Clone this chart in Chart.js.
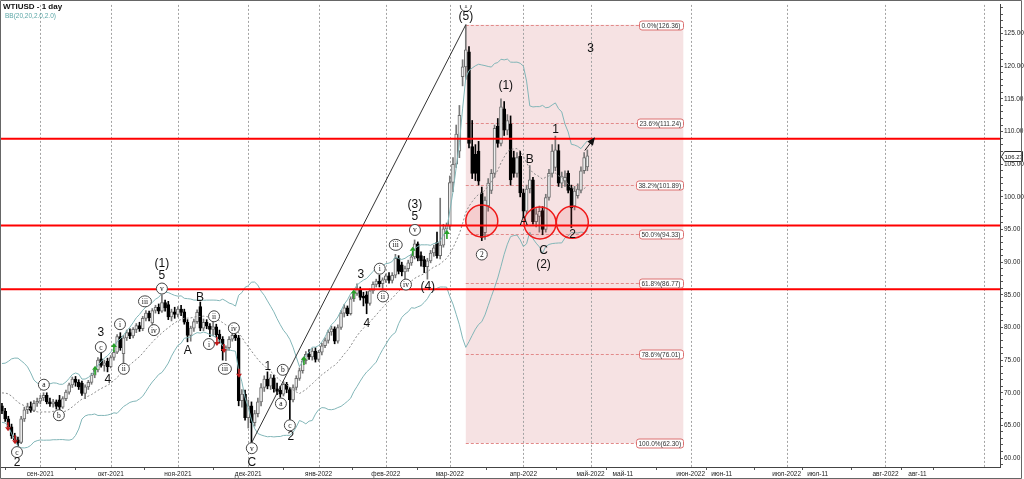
<!DOCTYPE html>
<html>
<head>
<meta charset="utf-8">
<title>WTIUSD - 1 day</title>
<script src="https://cdn.jsdelivr.net/npm/chart.js@4.4.1/dist/chart.umd.min.js"></script>
<style>
  html, body { margin: 0; padding: 0; background: #fff; overflow: hidden; }
  canvas { display: block; }
</style>
</head>
<body>
<canvas id="wtiChart" width="1024" height="479"></canvas>
<script>
// Daily WTIUSD candles, one per trading day (index 0 = mid Aug 2021, last = end Apr 2022)
const opens = [
  68.0, 67.2, 66.0, 64.8, 63.4, 62.8, 62.4, 66.0, 67.4, 67.9, 67.3, 68.4,
  68.7, 69.2, 69.6, 68.6, 68.3, 68.6, 68.9, 67.8, 69.1, 70.1, 71.2, 72.1, 71.6, 71.5, 69.9, 70.9, 71.6, 72.7, 73.5, 75.2, 74.2, 74.8,
  74.0, 75.4, 76.2, 78.6, 76.0, 78.4, 79.2, 78.7, 79.7, 80.3, 79.8, 81.4, 82.2, 80.7, 82.6, 83.1, 82.5, 83.8, 83.5, 81.6, 82.4,
  82.0, 82.8, 82.4, 80.8, 78.8, 79.9, 80.9, 83.2, 79.9, 80.8, 80.2, 79.7, 80.1, 79.0, 78.2, 76.4, 76.9, 78.2, 78.8, 78.4, 68.8, 69.8,
  66.2, 68.0, 65.4, 66.8, 68.6, 70.8, 72.1, 71.0, 72.3, 70.6, 70.4, 69.8, 71.3, 70.5, 68.9, 70.8, 72.2, 73.4, 74.9, 75.9, 75.5, 76.4,
  75.1, 76.2, 77.2, 78.0, 79.3, 79.8, 77.9, 80.0, 82.2, 83.0, 82.1, 84.4, 85.2, 85.8, 84.8, 85.0, 83.7, 85.6, 86.6, 87.1, 86.7,
  87.3, 87.9, 87.2, 88.0, 90.6, 89.6, 88.5, 89.0, 89.9, 90.8, 92.8, 91.0, 90.4, 89.3, 90.2, 91.4, 93.0, 91.0, 92.6, 95.1,
  95.5, 102.2, 105.0, 107.0, 118.4, 119.9, 122.2, 107.7, 106.5, 107.0, 100.6, 94.5, 98.6, 101.0, 103.6, 110.8, 108.2, 113.5, 110.2, 111.2, 106.0, 103.6, 106.2,
  100.6, 97.8, 101.2, 102.6, 96.2, 97.0, 97.9, 95.0, 99.9, 103.6, 104.5, 107.1, 102.1, 102.4, 103.6, 101.4, 98.6, 100.2, 101.0, 104.0, 104.6
];
const highs = [
  68.4, 67.6, 66.4, 65.2, 63.8, 63.2, 66.4, 67.8, 68.4, 68.6, 68.8, 69.2,
  69.6, 70.0, 70.0, 69.2, 69.0, 68.9, 69.6, 69.4, 70.4, 71.5, 72.4, 72.5, 72.0, 71.8, 71.2, 71.9, 73.0, 73.8, 75.4, 76.3, 75.0, 75.3,
  75.7, 76.5, 78.9, 79.2, 78.8, 79.6, 79.8, 80.0, 80.6, 80.8, 81.7, 82.6, 82.5, 82.9, 83.4, 83.6, 85.0, 84.2, 84.0, 82.8, 83.1,
  83.2, 83.4, 82.8, 81.2, 80.2, 81.3, 82.7, 83.9, 81.3, 81.2, 80.6, 81.0, 80.5, 79.6, 78.6, 77.2, 78.6, 79.2, 79.0, 78.8, 70.5, 70.4,
  68.9, 68.6, 67.3, 69.2, 71.4, 72.6, 73.2, 72.8, 72.7, 71.5, 71.0, 71.7, 71.6, 70.8, 71.2, 72.6, 73.8, 75.3, 76.3, 76.6, 76.8, 76.9,
  76.5, 77.6, 78.4, 79.6, 80.2, 80.1, 80.4, 82.6, 83.5, 83.3, 84.7, 85.6, 86.7, 86.2, 85.4, 85.5, 85.9, 87.0, 87.4, 88.0, 87.6,
  88.2, 88.4, 88.4, 91.2, 91.0, 90.0, 89.4, 90.3, 91.2, 93.4, 93.1, 91.6, 90.9, 90.6, 91.8, 92.6, 94.6, 99.8, 95.8, 96.0,
  103.2, 106.0, 111.0, 114.0, 121.0, 126.36, 123.0, 111.7, 108.0, 108.5, 101.5, 100.0, 102.8, 104.2, 111.0, 112.0, 115.0, 114.6, 112.6, 112.4, 107.0, 106.8, 107.0,
  101.2, 101.8, 104.8, 103.0, 98.2, 98.6, 98.5, 100.4, 104.2, 108.0, 109.3, 108.0, 103.8, 104.0, 104.0, 101.8, 101.6, 102.0, 104.6, 106.8, 107.2
];
const lows = [
  66.8, 65.6, 64.4, 63.0, 62.4, 61.9, 62.2, 65.6, 66.8, 67.0, 67.1, 67.9,
  68.3, 68.8, 68.3, 67.9, 67.8, 67.5, 67.2, 67.6, 68.8, 69.8, 70.8, 71.0, 70.5, 69.6, 69.1, 70.5, 71.3, 72.3, 73.2, 73.9, 73.3, 73.2,
  73.8, 75.0, 76.0, 76.5, 74.0, 78.0, 78.3, 78.4, 79.2, 79.4, 79.5, 81.0, 81.0, 80.2, 82.2, 82.1, 82.3, 82.5, 81.2, 81.0, 81.4,
  81.6, 81.8, 80.5, 77.8, 77.9, 79.4, 80.6, 79.5, 79.5, 79.8, 78.6, 78.7, 78.5, 77.6, 75.0, 74.9, 76.5, 77.9, 78.0, 68.0, 67.8, 65.8,
  64.6, 62.30, 64.9, 66.3, 68.0, 70.2, 70.6, 70.5, 70.1, 69.7, 69.3, 69.5, 70.0, 65.8, 68.6, 70.4, 71.9, 73.0, 74.4, 75.1, 75.0, 74.7,
  74.8, 75.8, 76.9, 77.6, 78.8, 77.5, 77.6, 79.7, 81.6, 81.8, 81.9, 84.0, 84.9, 84.2, 83.3, 82.1, 83.4, 85.2, 86.2, 86.2, 85.8,
  86.9, 86.8, 86.8, 87.6, 88.2, 87.9, 87.3, 88.6, 89.5, 90.5, 90.2, 89.4, 88.4, 87.4, 89.9, 90.9, 90.6, 90.5, 92.3, 94.6,
  95.0, 100.8, 104.5, 106.0, 117.0, 118.0, 107.5, 102.8, 102.5, 101.8, 93.3, 93.5, 97.8, 100.5, 103.0, 107.6, 107.8, 109.4, 109.5, 101.8, 103.0, 103.0, 100.0,
  96.8, 97.4, 100.6, 95.8, 95.4, 94.6, 94.2, 94.6, 99.5, 103.0, 104.0, 101.6, 101.4, 101.6, 100.6, 95.3, 98.0, 99.8, 100.6, 103.6, 104.0
];
const closes = [
  67.2, 66.0, 64.8, 63.4, 62.8, 62.3, 66.0, 67.4, 67.9, 67.3, 68.4, 68.7,
  69.2, 69.6, 68.6, 68.3, 68.6, 67.9, 67.8, 69.1, 70.1, 71.2, 72.1, 71.6, 70.9, 69.9, 70.9, 71.6, 72.7, 73.5, 75.0, 74.2, 74.6, 74.0,
  75.4, 76.2, 78.6, 76.9, 78.4, 79.2, 78.7, 79.7, 80.3, 79.8, 81.4, 82.2, 81.5, 82.6, 83.1, 82.5, 83.8, 83.0, 81.6, 82.4, 82.0,
  82.8, 82.3, 80.8, 78.8, 79.9, 80.9, 82.3, 79.9, 80.8, 80.2, 79.7, 80.1, 78.9, 78.2, 76.4, 76.9, 78.2, 78.8, 78.4, 68.8, 69.8, 66.2,
  68.0, 65.4, 66.8, 68.6, 70.8, 72.1, 71.0, 72.3, 70.6, 70.2, 69.8, 71.3, 70.5, 68.9, 70.8, 72.2, 73.4, 74.9, 75.9, 75.5, 76.4, 75.1,
  76.2, 77.2, 78.0, 79.3, 79.8, 77.9, 80.0, 82.2, 83.0, 82.1, 84.4, 85.2, 85.8, 84.6, 84.5, 83.7, 85.6, 86.6, 87.1, 86.7, 87.3,
  87.9, 87.2, 88.0, 90.6, 88.6, 88.5, 89.0, 89.9, 90.8, 92.8, 90.6, 90.2, 89.3, 90.2, 91.4, 92.2, 91.0, 92.6, 95.1, 95.6,
  102.2, 105.0, 109.6, 112.5, 119.9, 122.5, 108.2, 103.6, 103.6, 102.4, 93.8, 99.5, 102.1, 103.6, 110.5, 108.2, 113.8, 110.2, 111.7, 102.6, 103.6, 106.0, 100.6,
  97.8, 101.2, 102.6, 96.2, 97.4, 97.8, 95.0, 99.9, 103.6, 107.0, 107.2, 102.1, 103.2, 103.0, 101.0, 98.3, 100.9, 101.2, 104.0, 106.0, 106.27
];
// closes before the first visible bar, needed only to start the BB(20) window
const bbWarmupCloses = [66.4, 67.4, 70.3, 71.9, 72.1, 71.9, 71.7, 72.4, 73.6, 73.9, 71.3, 70.6, 68.2, 69.1, 68.3, 66.5, 68.3, 69.3, 69.1];

// x axis (bar index; future part runs on calendar days)
const xTickIdx = [12, 34, 55, 77, 99, 120, 140, 163, 184, 194.1, 215.3, 225, 245.3, 255, 276.2, 286.2];
const xTickLabels = ['сен-2021', 'окт-2021', 'ноя-2021', 'дек-2021', 'янв-2022', 'фев-2022', 'мар-2022', 'апр-2022',
  'май-2022', 'май-11', 'июн-2022', 'июн-11', 'июл-2022', 'июл-11', 'авг-2022', 'авг-11'];
const monthGridIdx = [12, 34, 55, 77, 99, 120, 140, 163, 184, 215.3, 245.3, 276.2, 306.9];

// analysis objects
const supportLevels = [108.9, 95.6, 85.85];
const swingLowIdx = 78, swingHighIdx = 145, fibEndIdx = 213;
const fibRatios = [0, 0.236, 0.382, 0.5, 0.618, 0.786, 1];
const zoneCircles = [[150, 96.3], [168.2, 96.0], [178.3, 96.1]];
const projection = [[182.2, 107.1], [185, 108.9]];
const waveLabels = [
  ['2', 4.7, 59.24], ['3', 30.9, 79.13], ['4', 33.1, 72.0], ['5', 50, 87.94], ['(1)', 50, 89.76],
  ['A', 58.1, 76.4], ['B', 61.9, 84.6], ['C', 78.1, 59.24], ['1', 83.1, 73.97], ['2', 90.3, 63.34],
  ['3', 112.2, 88.09], ['4', 114.1, 80.65], ['5', 129.1, 96.9], ['(3)', 129.1, 98.87], ['(4)', 133.1, 86.27],
  ['(5)', 145, 127.58], ['(1)', 157.5, 117.0], ['A', 163.1, 96.14], ['B', 165, 105.71], ['C', 169.3, 91.74],
  ['(2)', 169.3, 89.66], ['1', 173.1, 110.26], ['2', 178.4, 94.17], ['3', 184, 122.72]
];
const circledLabels = [
  ['c', 4.7, 60.91], ['a', 13.1, 71.23], ['b', 17.8, 66.56], ['c', 30.9, 77.0], ['i', 36.9, 80.5],
  ['ii', 38.1, 73.66], ['iii', 44.7, 84.0], ['iv', 47.5, 79.59], ['v', 50, 85.96],
  ['i', 64.7, 77.46], ['ii', 66.3, 81.71], ['iii', 69.7, 73.66], ['iv', 72.5, 79.89], ['v', 78.1, 61.51],
  ['a', 87.2, 68.35], ['b', 87.8, 73.51], ['c', 90, 65.01],
  ['i', 118.1, 89.0], ['ii', 119.1, 84.75], ['iii', 123.1, 92.65], ['iv', 126.3, 86.57], ['v', 129.1, 94.93],
  ['1', 145, 129.25], ['2', 150, 91.17]
];
const buySignals = [[29.1, 73.36], [35, 76.85], [94.4, 74.88], [110, 85.05], [128.4, 91.58], [139.1, 94.17]];
const sellSignals = [[1.9, 64.86], [4.1, 62.88], [67.2, 77.92], [69.4, 76.85], [74.1, 73.06]];

const X_MIN = -0.3, X_MAX = 312;
const FONT = '"Liberation Sans", Arial, sans-serif';

// Bollinger bands (20, 2.0) from the closes
function bollinger(period, mult) {
  const all = bbWarmupCloses.concat(closes);
  const off = bbWarmupCloses.length;
  const mid = [], upper = [], lower = [];
  for (let i = 0; i < closes.length; i++) {
    const win = all.slice(i + off - period + 1, i + off + 1);
    const m = win.reduce((a, b) => a + b, 0) / win.length;
    const sd = Math.sqrt(win.reduce((a, b) => a + (b - m) * (b - m), 0) / win.length);
    mid.push({ x: i, y: m });
    upper.push({ x: i, y: m + mult * sd });
    lower.push({ x: i, y: m - mult * sd });
  }
  return { mid, upper, lower };
}
const bb = bollinger(20, 2);

const idx = closes.map((_, i) => i);
const isUp = i => closes[i] >= opens[i];
const wickData = idx.map(i => ({ x: i, y: [lows[i], highs[i]] }));
const bodyData = idx.map(i => ({ x: i, y: [opens[i], closes[i]] }));

function boxPath(ctx, x, y, w, h, r) {
  ctx.beginPath();
  ctx.moveTo(x + r, y);
  ctx.lineTo(x + w - r, y);
  ctx.quadraticCurveTo(x + w, y, x + w, y + r);
  ctx.lineTo(x + w, y + h - r);
  ctx.quadraticCurveTo(x + w, y + h, x + w - r, y + h);
  ctx.lineTo(x + r, y + h);
  ctx.quadraticCurveTo(x, y + h, x, y + h - r);
  ctx.lineTo(x, y + r);
  ctx.quadraticCurveTo(x, y, x + r, y);
  ctx.closePath();
}

const overlay = {
  id: 'overlay',
  beforeDatasetsDraw(chart) {
    const { ctx, chartArea: area, scales: { x, y } } = chart;
    const fibHigh = highs[swingHighIdx], fibLow = lows[swingLowIdx];
    const left = x.getPixelForValue(swingHighIdx), right = x.getPixelForValue(fibEndIdx);
    ctx.save();
    // fibonacci box
    ctx.fillStyle = '#f6e2e3';
    const top = y.getPixelForValue(fibHigh), bottom = y.getPixelForValue(fibLow);
    ctx.fillRect(left, top, right - left, bottom - top);
    // month grid
    ctx.lineWidth = 1;
    ctx.strokeStyle = '#a3a3a3';
    ctx.setLineDash([2, 2]);
    monthGridIdx.forEach(v => {
      const gx = Math.round(x.getPixelForValue(v)) + 0.5;
      ctx.beginPath(); ctx.moveTo(gx, area.top); ctx.lineTo(gx, area.bottom); ctx.stroke();
    });
    // fibonacci levels
    ctx.strokeStyle = '#e28a8a';
    ctx.setLineDash([3, 2]);
    fibRatios.forEach(r => {
      const gy = Math.round(y.getPixelForValue(fibHigh - r * (fibHigh - fibLow))) + 0.5;
      ctx.beginPath(); ctx.moveTo(left, gy); ctx.lineTo(right, gy); ctx.stroke();
    });
    ctx.restore();
  },
  afterDatasetsDraw(chart) {
    const { ctx, chartArea: area, scales: { x, y } } = chart;
    const fibHigh = highs[swingHighIdx], fibLow = lows[swingLowIdx];
    const right = x.getPixelForValue(fibEndIdx);
    ctx.save();
    ctx.beginPath();
    ctx.rect(area.left, area.top, area.width, area.height);
    ctx.clip();

    // zone circles
    ctx.lineWidth = 1.5;
    ctx.strokeStyle = '#f01818';
    ctx.fillStyle = 'rgba(240, 70, 70, 0.13)';
    zoneCircles.forEach(([i, v]) => {
      ctx.beginPath();
      ctx.arc(x.getPixelForValue(i), y.getPixelForValue(v), 16, 0, Math.PI * 2);
      ctx.fill(); ctx.stroke();
    });

    // fibonacci labels
    ctx.font = '6.5px ' + FONT;
    ctx.textBaseline = 'middle';
    ctx.textAlign = 'left';
    ctx.lineWidth = 1;
    fibRatios.forEach(r => {
      const lvl = fibHigh - r * (fibHigh - fibLow);
      const txt = (r * 100).toFixed(1) + '%(' + lvl.toFixed(2) + ')';
      const w = Math.ceil(ctx.measureText(txt).width) + 4;
      const gy = Math.round(y.getPixelForValue(lvl)) + 0.5;
      boxPath(ctx, Math.round(right - w) + 0.5, gy - 4.5, w, 9, 2.5);
      ctx.fillStyle = '#fff'; ctx.fill();
      ctx.strokeStyle = '#dc7070'; ctx.stroke();
      ctx.fillStyle = '#333';
      ctx.fillText(txt, Math.round(right - w) + 2.5, gy + 0.5);
    });

    // buy / sell signal arrows
    const drawArrow = (i, v, up, color) => {
      const cx = x.getPixelForValue(i), cy = y.getPixelForValue(v);
      const d = up ? -1 : 1;
      ctx.fillStyle = color; ctx.strokeStyle = color; ctx.lineWidth = 1.6;
      ctx.beginPath(); ctx.moveTo(cx, cy - 4 * d); ctx.lineTo(cx, cy + 1 * d); ctx.stroke();
      ctx.beginPath(); ctx.moveTo(cx - 3, cy + 1 * d); ctx.lineTo(cx + 3, cy + 1 * d); ctx.lineTo(cx, cy + 5 * d); ctx.closePath(); ctx.fill();
    };
    buySignals.forEach(([i, v]) => drawArrow(i, v, true, '#27a227'));
    sellSignals.forEach(([i, v]) => drawArrow(i, v, false, '#c01c1c'));

    // circled wave labels
    ctx.lineWidth = 1;
    ctx.textAlign = 'center';
    circledLabels.forEach(([t, i, v]) => {
      const cx = x.getPixelForValue(i), cy = y.getPixelForValue(v);
      const rx = t.length > 2 ? 6.5 : 5.5;
      ctx.beginPath(); ctx.ellipse(cx, cy, rx, 5.5, 0, 0, Math.PI * 2);
      ctx.fillStyle = '#fff'; ctx.fill();
      ctx.strokeStyle = '#444'; ctx.stroke();
      ctx.fillStyle = '#111';
      ctx.font = '7.5px "Liberation Serif", serif';
      ctx.fillText(t, cx, cy + 0.5);
    });

    // wave labels
    ctx.fillStyle = '#111';
    ctx.font = '12px ' + FONT;
    waveLabels.forEach(([t, i, v]) => {
      ctx.fillText(t, x.getPixelForValue(i), y.getPixelForValue(v));
    });

    // projection arrow
    const [p0, p1] = projection.map(([i, v]) => [x.getPixelForValue(i), y.getPixelForValue(v)]);
    const ang = Math.atan2(p1[1] - p0[1], p1[0] - p0[0]);
    ctx.strokeStyle = '#111'; ctx.fillStyle = '#111'; ctx.lineWidth = 1;
    ctx.beginPath(); ctx.moveTo(p0[0], p0[1]); ctx.lineTo(p1[0], p1[1]); ctx.stroke();
    ctx.beginPath();
    ctx.moveTo(p1[0] + 2 * Math.cos(ang), p1[1] + 2 * Math.sin(ang));
    ctx.lineTo(p1[0] - 6 * Math.cos(ang) + 3.5 * Math.sin(ang), p1[1] - 6 * Math.sin(ang) - 3.5 * Math.cos(ang));
    ctx.lineTo(p1[0] - 6 * Math.cos(ang) - 3.5 * Math.sin(ang), p1[1] - 6 * Math.sin(ang) + 3.5 * Math.cos(ang));
    ctx.closePath(); ctx.fill();
    ctx.restore();

    // title
    ctx.save();
    ctx.textAlign = 'left';
    ctx.textBaseline = 'middle';
    ctx.fillStyle = '#111';
    ctx.font = 'bold 8px ' + FONT;
    ctx.fillText('WTIUSD - 1 day', 3, 6.5);
    ctx.fillStyle = '#5aa6a6';
    ctx.font = '6.5px ' + FONT;
    ctx.fillText('BB(20,20,2.0,2.0)', 5, 16);

    // last price tag on the axis
    const last = closes[closes.length - 1];
    const ty = Math.round(y.getPixelForValue(last)) + 0.5;
    const tx = area.right + 1.5;
    ctx.beginPath();
    ctx.moveTo(tx, ty);
    ctx.lineTo(tx + 3, ty - 5);
    ctx.lineTo(tx + 21, ty - 5);
    ctx.lineTo(tx + 21, ty + 5);
    ctx.lineTo(tx + 3, ty + 5);
    ctx.closePath();
    ctx.fillStyle = '#fff'; ctx.fill();
    ctx.strokeStyle = '#333'; ctx.lineWidth = 1; ctx.stroke();
    ctx.fillStyle = '#111';
    ctx.font = '6px ' + FONT;
    ctx.fillText(last.toFixed(2), tx + 3, ty + 0.5);

    // outer frame
    ctx.strokeStyle = '#666';
    ctx.beginPath();
    ctx.moveTo(0.5, 0.5); ctx.lineTo(1021.5, 0.5); ctx.lineTo(1021.5, 478.5); ctx.lineTo(0.5, 478.5); ctx.closePath();
    ctx.stroke();
    ctx.restore();
  }
};

const hLine = level => ({
  type: 'line',
  data: [{ x: X_MIN, y: level }, { x: X_MAX, y: level }],
  borderColor: '#ff0000',
  borderWidth: 2,
  pointRadius: 0,
  order: 0
});

new Chart(document.getElementById('wtiChart'), {
  type: 'bar',
  data: {
    datasets: [
      ...supportLevels.map(hLine),
      {
        type: 'line',
        data: [{ x: swingLowIdx, y: lows[swingLowIdx] }, { x: swingHighIdx, y: highs[swingHighIdx] }],
        borderColor: '#333', borderWidth: 1, pointRadius: 0, order: 1
      },
      { type: 'line', data: bb.upper, borderColor: '#82b6b8', borderWidth: 1, pointRadius: 0, order: 2 },
      { type: 'line', data: bb.lower, borderColor: '#82b6b8', borderWidth: 1, pointRadius: 0, order: 2 },
      { type: 'line', data: bb.mid, borderColor: '#8a8a8a', borderWidth: 1, borderDash: [2, 2], pointRadius: 0, order: 2 },
      {
        type: 'bar', data: bodyData,
        backgroundColor: idx.map(i => isUp(i) ? '#ededed' : '#000'),
        borderColor: idx.map(i => isUp(i) ? '#6e6e6e' : '#000'),
        borderWidth: 1, borderSkipped: false, barThickness: 3, minBarLength: 1, grouped: false, order: 5
      },
      {
        type: 'bar', data: wickData,
        backgroundColor: idx.map(i => isUp(i) ? '#777' : '#000'),
        barThickness: 1, grouped: false, order: 6
      }
    ]
  },
  options: {
    responsive: false,
    animation: false,
    devicePixelRatio: 1,
    events: [],
    layout: { padding: { left: 1, top: 1, right: 0, bottom: 0 } },
    plugins: { legend: { display: false }, tooltip: { enabled: false } },
    scales: {
      x: {
        type: 'linear', min: X_MIN, max: X_MAX, offset: false,
        grid: { display: true, drawOnChartArea: false, drawTicks: true, tickLength: 3, color: '#555' },
        border: { display: true, color: '#444' },
        afterBuildTicks: s => { s.ticks = xTickIdx.map(v => ({ value: v })); },
        ticks: {
          autoSkip: false, maxRotation: 0, minRotation: 0, padding: 0, color: '#222',
          font: { size: 6.5, family: FONT },
          callback: (v, k) => xTickLabels[k]
        },
        afterFit: s => { s.height = 12; }
      },
      y: {
        type: 'linear', position: 'right', min: 58.63, max: 129.40,
        grid: { display: true, drawOnChartArea: false, tickLength: 3, color: '#555' },
        border: { display: true, color: '#444' },
        ticks: {
          stepSize: 1, autoSkip: false, includeBounds: false, maxTicksLimit: 200, padding: 1, color: '#222',
          font: { size: 6.5, family: FONT },
          callback: v => (Math.abs(v - Math.round(v / 5) * 5) < 1e-6 ? v.toFixed(2) : '')
        },
        afterFit: s => { s.width = 24; }
      }
    }
  },
  plugins: [overlay]
});
</script>
</body>
</html>
